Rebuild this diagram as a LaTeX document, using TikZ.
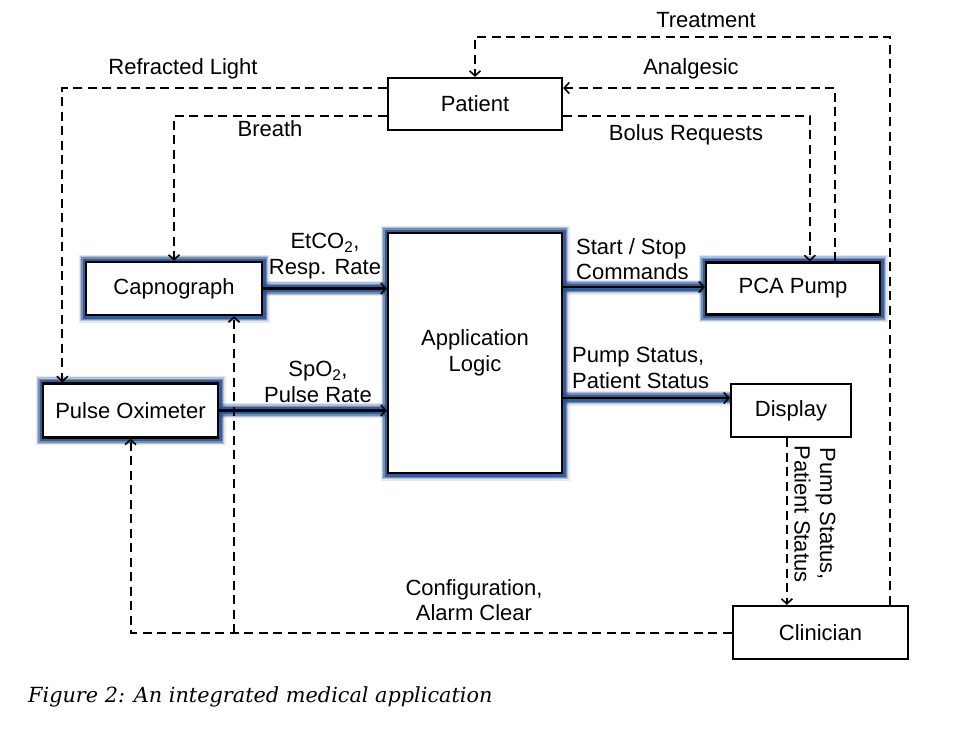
\documentclass[tikz,border=0pt]{standalone}
\usepackage{fontspec}
\newfontfamily\arial{Liberation Sans}
\newfontfamily\capserif{DejaVu Serif}
\usetikzlibrary{arrows.meta}
\definecolor{glowc}{RGB}{40,80,140}
\tikzset{
  txt/.style={font=\arial\fontsize{22}{25.5}\selectfont},
  box/.style={txt, draw=black, line width=2.3pt, fill=white, inner sep=0pt, align=center},
  glow/.style={preaction={draw=glowc, line width=15pt, opacity=0.12},
               preaction={draw=glowc, line width=12.5pt, opacity=0.25},
               preaction={draw=glowc, line width=10pt, opacity=0.45},
               preaction={draw=glowc, line width=7pt, opacity=0.8}},
  tip/.style={-{Straight Barb[length=5pt,width=11pt,line width=1.6pt]}},
  dflow/.style={line width=2pt, dash pattern=on 9pt off 5.5pt, tip},
  sflow/.style={line width=2.6pt, tip},
  lbl/.style={txt, inner sep=0pt, align=center},
  lbll/.style={txt, inner sep=0pt, align=left}
}
\begin{document}
\begin{tikzpicture}[x=1pt,y=-1pt]
\path[use as bounding box, fill=white] (0,0) rectangle (978,729);

% nodes
\node[box, glow, minimum width=176pt, minimum height=53pt] (capno) at (174,288.5) {Capnograph};
\node[box, glow, minimum width=175pt, minimum height=54pt] (pox) at (130.5,410.5) {Pulse Oximeter};
\node[box, minimum width=174pt, minimum height=52pt] (pat) at (475,104) {Patient};
\node[box, glow, minimum width=174pt, minimum height=52pt] (pca) at (793,288.5) {PCA Pump};
\node[box, minimum width=120pt, minimum height=53pt] (disp) at (791,410.5) {Display};
\node[box, minimum width=175pt, minimum height=53pt] (clin) at (820.5,632.5) {Clinician};

% glow under solid arrows
\path[glow] (capno.east) -- (capno.east -| 388,0);
\path[glow] (pox.east) -- (pox.east -| 388,0);
\path[glow] (562,287) -- (pca.west |- 0,287);
\path[glow] (562,398) -- ([yshift=12.5pt]disp.west);

\node[box, glow, minimum width=174pt, minimum height=240pt] (app) at (475,353) {Application\\Logic};

\draw[sflow] (capno.east) -- (capno.east -| app.west);
\draw[sflow] (pox.east) -- (pox.east -| app.west);
\draw[sflow] (app.east |- 0,287) -- (pca.west |- 0,287);
\draw[sflow] (app.east |- 0,398) -- ([yshift=12.5pt]disp.west);
% redraw box borders over arrow glow
\node[box, minimum width=176pt, minimum height=53pt, fill=none] at (capno) {};
\node[box, minimum width=175pt, minimum height=54pt, fill=none] at (pox) {};
\node[box, minimum width=174pt, minimum height=52pt, fill=none] at (pca) {};

% dashed connectors
\draw[dflow] ([yshift=16pt]pat.west) -| ([xshift=20.5pt]pox.north west);
\draw[dflow] ([yshift=-12pt]pat.west) -| (capno.north);
\coordinate (tr) at (890,37);
\draw[dflow] (clin.north -| tr) -- (tr) -| (pat.north);
\draw[dflow] ([xshift=130pt]pca.north west) |- ([yshift=16pt]pat.east);
\draw[dflow] ([yshift=-12pt]pat.east) -| ([xshift=105pt]pca.north west);
\draw[dflow] ([xshift=57pt]disp.south west) -- ([xshift=57pt]disp.south west |- clin.north);
\coordinate (cj) at (234,633);
\draw[dflow] (clin.west) -| (pox.south);
\draw[dflow] (cj) -- ([xshift=60pt]capno.south);

% labels
\node[lbl] (l1) at (183,69) {Refracted Light};
\node[lbl] (l2) at (270,129) {Breath};
\node[lbl] (l3) at (706,20) {Treatment};
\node[lbl] (l4) at (691,69) {Analgesic};
\node[lbl] (l5) at (686,135) {Bolus Requests};
\node[lbl] (l6) at (325,256) {EtCO\textsubscript{2},\\Resp. Rate};
\node[lbl] (l7) at (318,382) {SpO\textsubscript{2},\\Pulse Rate};
\node[lbll, anchor=west] (l8) at (576,259) {Start / Stop\\Commands};
\node[lbll, anchor=west] (l9) at (572,368) {Pump Status,\\Patient Status};
\node[lbl, rotate=-90] (l10) at (815,514) {Pump Status,\\Patient Status};
\node[lbl] (l11) at (474,600) {Configuration,\\Alarm Clear};
\node[inner sep=0pt, anchor=west, font=\capserif\itshape\fontsize{20.8}{24}\selectfont] (cap) at (28,697) {Figure 2: An integrated medical application};
\end{tikzpicture}
\end{document}
